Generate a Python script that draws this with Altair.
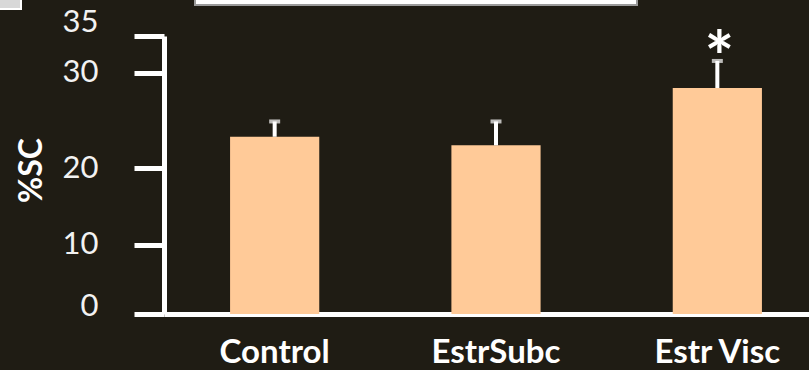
import altair as alt
import pandas as pd

# Group means and upper error limits (%SC)
groups = ["Control", "EstrSubc", "Estr Visc"]
means = [23.3, 22.4, 28.4]
upper = [24.9, 24.9, 31.6]
signif = ["", "", "*"]
y_ticks = [0, 10, 20, 30, 35]

BG = "#1f1c14"
BAR = "#FFCA98"
FONT = "Lato"

df = pd.DataFrame({"group": groups, "mean": means, "upper": upper, "sig": signif})

x_enc = alt.X(
    "group:N",
    sort=groups,
    scale=alt.Scale(range=[0, 664], paddingInner=0.597, paddingOuter=0.2985),
    axis=alt.Axis(
        title=None,
        ticks=False,
        labelAngle=0,
        labelFont=FONT,
        labelFontWeight="bold",
        labelFontSize=33,
        labelColor="#ffffff",
        labelPadding=22,
        domainColor="#ffffff",
        domainWidth=5,
    ),
)

# Hand-spaced value axis: piecewise-linear mapping through the tick positions
y_scale = alt.Scale(domain=y_ticks, range=[278, 208.7, 132.3, 36.7, 0], zero=False, nice=False)

y_enc = alt.Y(
    "mean:Q",
    scale=y_scale,
    axis=alt.Axis(
        title="%SC",
        values=y_ticks,
        grid=False,
        domainColor="#ffffff",
        domainWidth=5,
        tickColor="#ffffff",
        tickWidth=5,
        tickSize=30,
        labelFont=FONT,
        labelFontSize=31,
        labelColor="#f2f2f2",
        labelPadding=36,
        labelOffset={"condition": [
            {"test": "datum.value == 35", "value": -14},
            {"test": "datum.value == 0", "value": -8},
        ], "value": 0},
        titleFont=FONT,
        titleFontWeight="bold",
        titleFontSize=32,
        titleColor="#ffffff",
        titleAngle=270,
        titleAlign="center",
        titleBaseline="middle",
        titleX=-133,
        titleY=134,
    ),
)

base = alt.Chart(df)

bars = base.mark_bar(color=BAR).encode(x=x_enc, y=y_enc)

stems = base.mark_rule(color="#ffffff", strokeWidth=4).encode(
    x=alt.X("group:N", sort=groups),
    y=alt.Y("mean:Q", scale=y_scale),
    y2="upper:Q",
)

caps = base.mark_tick(color="#ffffff", thickness=4, size=11, orient="horizontal").encode(
    x=alt.X("group:N", sort=groups),
    y=alt.Y("upper:Q", scale=y_scale),
)

stars = base.mark_text(
    color="#ffffff", font=FONT, fontWeight="bold", fontSize=70, baseline="middle", dy=1, dx=2
).encode(
    x=alt.X("group:N", sort=groups),
    y=alt.Y("upper:Q", scale=y_scale),
    text="sig:N",
)

# Framed title panel and corner panel at the top edge
one = pd.DataFrame({"k": [0]})
title_box = alt.Chart(one).mark_rect(fill="#ffffff", stroke="#9a9a9a", strokeWidth=2).encode(
    x=alt.value(31), x2=alt.value(473), y=alt.value(-44), y2=alt.value(-31)
)
corner_box = alt.Chart(one).mark_rect(fill="#d8d8d8", stroke="#ffffff", strokeWidth=2).encode(
    x=alt.value(-170), x2=alt.value(-143), y=alt.value(-44), y2=alt.value(-27)
)

chart = (
    alt.layer(bars, stems, caps, stars, title_box, corner_box)
    .properties(
        width=645,
        height=278,
        background=BG,
        autosize=alt.AutoSizeParams(type="none"),
        padding={"left": 164, "top": 36, "right": 0, "bottom": 56},
    )
    .configure_view(stroke=None)
)

chart.save("out.html", embed_options={"renderer": "svg", "actions": False})
